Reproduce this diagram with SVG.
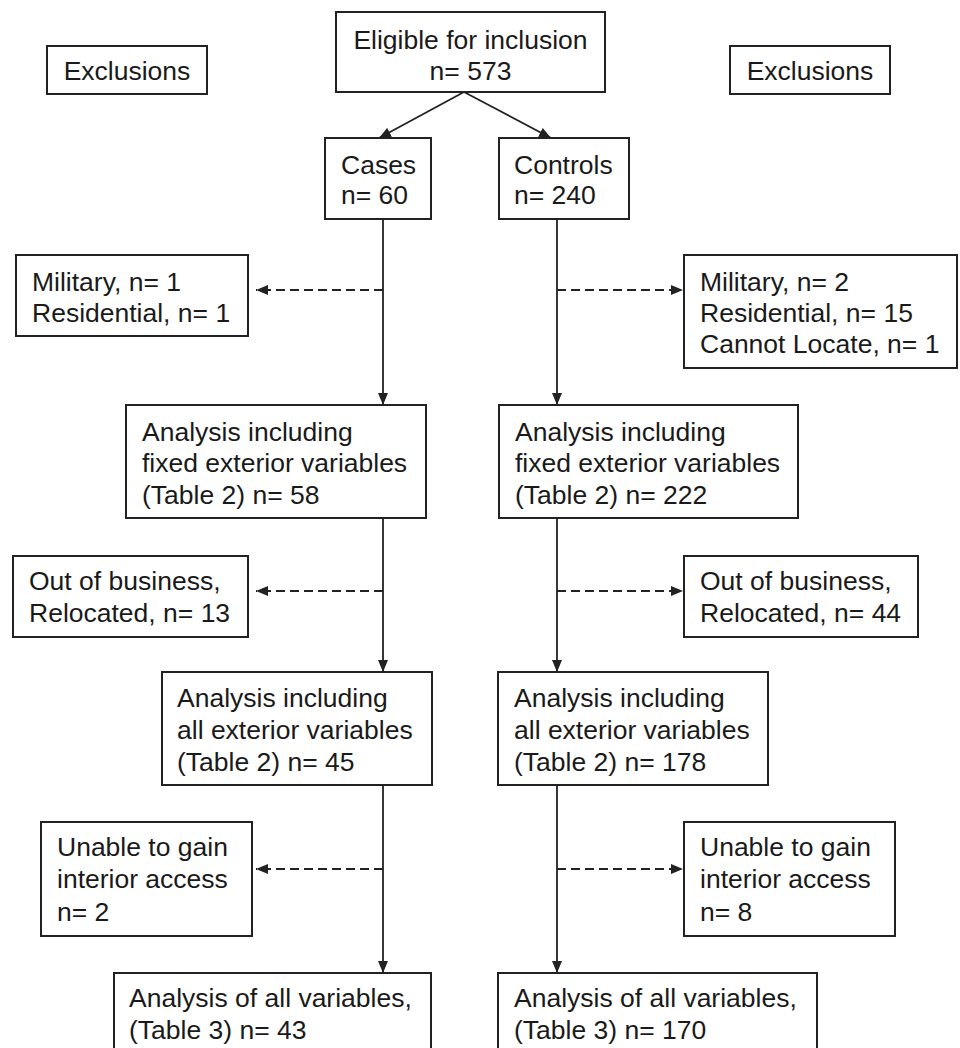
<svg xmlns="http://www.w3.org/2000/svg" width="960" height="1048" viewBox="0 0 960 1048">
<style>
.box{fill:#fff;stroke:#222;stroke-width:2}
text{font-family:"Liberation Sans",Arial,sans-serif;font-size:26.5px;fill:#1a1a1a}
.c{text-anchor:middle}
.ln{fill:none;stroke:#222;stroke-width:1.8}
.ds{fill:none;stroke:#222;stroke-width:1.8;stroke-dasharray:9 5}
</style>
<defs>
<marker id="ah" markerUnits="userSpaceOnUse" markerWidth="12" markerHeight="10" refX="12" refY="5" orient="auto" viewBox="0 0 12 10">
<path d="M0,0 L12,5 L0,10 z" fill="#222"/>
</marker>
</defs>
<rect width="960" height="1048" fill="#fff"/>
<g id="connectors">
<line class="ln" x1="464" y1="92" x2="379" y2="138" marker-end="url(#ah)"/>
<line class="ln" x1="464" y1="92" x2="551" y2="138" marker-end="url(#ah)"/>
<line class="ln" x1="383" y1="219" x2="383" y2="405" marker-end="url(#ah)"/>
<line class="ln" x1="383" y1="518" x2="383" y2="672" marker-end="url(#ah)"/>
<line class="ln" x1="383" y1="785" x2="383" y2="973" marker-end="url(#ah)"/>
<line class="ln" x1="557" y1="219" x2="557" y2="405" marker-end="url(#ah)"/>
<line class="ln" x1="557" y1="518" x2="557" y2="672" marker-end="url(#ah)"/>
<line class="ln" x1="557" y1="785" x2="557" y2="973" marker-end="url(#ah)"/>
<line class="ds" x1="383" y1="290" x2="256" y2="290" marker-end="url(#ah)"/>
<line class="ds" x1="383" y1="591" x2="256" y2="591" marker-end="url(#ah)"/>
<line class="ds" x1="383" y1="869" x2="256" y2="869" marker-end="url(#ah)"/>
<line class="ds" x1="557" y1="290" x2="683" y2="290" marker-end="url(#ah)"/>
<line class="ds" x1="557" y1="591" x2="683" y2="591" marker-end="url(#ah)"/>
<line class="ds" x1="557" y1="869" x2="683" y2="869" marker-end="url(#ah)"/>
</g>
<g id="excl-left">
<rect class="box" x="47" y="46" width="160" height="48"/>
<text class="c" x="127" y="80">Exclusions</text>
</g>
<g id="excl-right">
<rect class="box" x="730" y="46" width="160" height="48"/>
<text class="c" x="810" y="80">Exclusions</text>
</g>
<g id="eligible">
<rect class="box" x="336" y="12" width="269" height="80"/>
<text class="c" x="470.5" y="49">Eligible for inclusion</text>
<text class="c" x="470.5" y="80">n= 573</text>
</g>
<g id="cases">
<rect class="box" x="325" y="138" width="106" height="81"/>
<text x="341" y="174">Cases</text>
<text x="341" y="204">n= 60</text>
</g>
<g id="controls">
<rect class="box" x="499" y="138" width="130" height="81"/>
<text x="514" y="174">Controls</text>
<text x="514" y="204">n= 240</text>
</g>
<g id="excl1-left">
<rect class="box" x="16" y="255" width="232" height="81"/>
<text x="32" y="291">Military, n= 1</text>
<text x="32" y="322">Residential, n= 1</text>
</g>
<g id="excl1-right">
<rect class="box" x="684" y="255" width="273" height="113"/>
<text x="700" y="291">Military, n= 2</text>
<text x="700" y="322">Residential, n= 15</text>
<text x="700" y="353">Cannot Locate, n= 1</text>
</g>
<g id="fixed-left">
<rect class="box" x="126" y="405" width="300" height="113"/>
<text x="142" y="441">Analysis including</text>
<text x="142" y="472">fixed exterior variables</text>
<text x="142" y="504">(Table 2) n= 58</text>
</g>
<g id="fixed-right">
<rect class="box" x="499" y="405" width="299" height="113"/>
<text x="515" y="441">Analysis including</text>
<text x="515" y="472">fixed exterior variables</text>
<text x="515" y="504">(Table 2) n= 222</text>
</g>
<g id="excl2-left">
<rect class="box" x="13" y="556" width="235" height="81"/>
<text x="29" y="590">Out of business,</text>
<text x="29" y="622">Relocated, n= 13</text>
</g>
<g id="excl2-right">
<rect class="box" x="684" y="556" width="234" height="81"/>
<text x="700" y="590">Out of business,</text>
<text x="700" y="622">Relocated, n= 44</text>
</g>
<g id="allext-left">
<rect class="box" x="162" y="672" width="270" height="113"/>
<text x="177" y="707">Analysis including</text>
<text x="177" y="739">all exterior variables</text>
<text x="177" y="771">(Table 2) n= 45</text>
</g>
<g id="allext-right">
<rect class="box" x="498" y="672" width="270" height="113"/>
<text x="514" y="707">Analysis including</text>
<text x="514" y="739">all exterior variables</text>
<text x="514" y="771">(Table 2) n= 178</text>
</g>
<g id="excl3-left">
<rect class="box" x="41" y="822" width="211" height="114"/>
<text x="57" y="856">Unable to gain</text>
<text x="57" y="888">interior access</text>
<text x="57" y="921">n= 2</text>
</g>
<g id="excl3-right">
<rect class="box" x="684" y="822" width="211" height="114"/>
<text x="700" y="856">Unable to gain</text>
<text x="700" y="888">interior access</text>
<text x="700" y="921">n= 8</text>
</g>
<g id="allvar-left">
<rect class="box" x="114" y="973" width="317" height="80"/>
<text x="129" y="1007">Analysis of all variables,</text>
<text x="129" y="1039">(Table 3) n= 43</text>
</g>
<g id="allvar-right">
<rect class="box" x="498" y="973" width="319" height="80"/>
<text x="514" y="1007">Analysis of all variables,</text>
<text x="514" y="1039">(Table 3) n= 170</text>
</g>
</svg>
